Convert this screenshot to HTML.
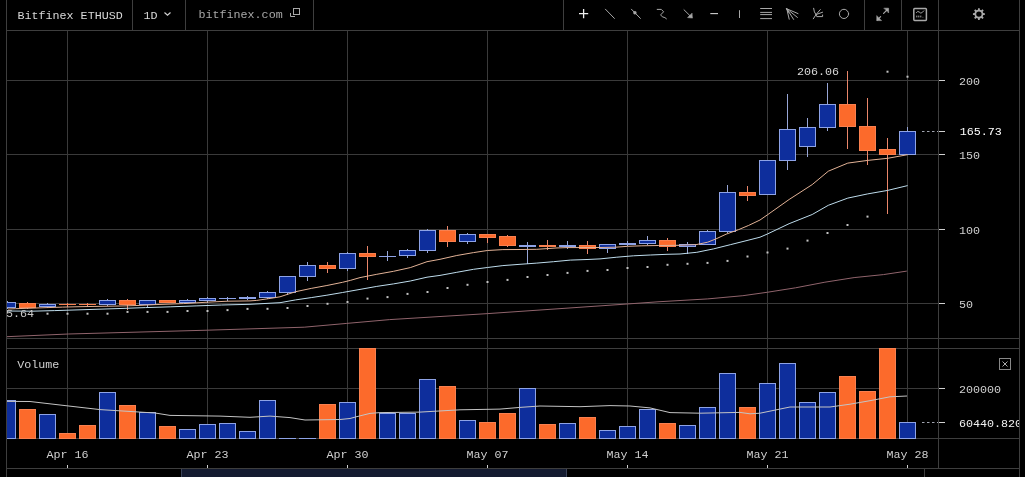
<!DOCTYPE html>
<html><head><meta charset="utf-8"><style>
html,body{margin:0;padding:0;background:#000;width:1025px;height:477px;overflow:hidden}
svg{display:block}
text{font-family:"Liberation Mono",monospace;}
.gs{will-change:transform}
</style></head><body>
<svg class="gs" width="1025" height="477" viewBox="0 0 1025 477">
<defs>
<clipPath id="pc"><rect x="7" y="31" width="931" height="307"/></clipPath>
<clipPath id="ac"><rect x="939" y="339" width="80" height="100"/></clipPath>
<clipPath id="vc"><rect x="7" y="348" width="931" height="91"/></clipPath>
</defs>
<rect width="1025" height="477" fill="#000"/>
<!-- frame lines -->
<g stroke="#3e3e3e" fill="none">
<line x1="6.5" y1="0" x2="6.5" y2="477"/>
<line x1="1019.5" y1="0" x2="1019.5" y2="477"/>
<line x1="938.5" y1="0" x2="938.5" y2="469"/>
<line x1="7" y1="30.5" x2="1019" y2="30.5"/>
<line x1="7" y1="338.5" x2="1019" y2="338.5"/>
<line x1="7" y1="348.5" x2="1019" y2="348.5"/>
<line x1="7" y1="438.5" x2="1019" y2="438.5"/>
<line x1="7" y1="468.5" x2="1019" y2="468.5"/>
<line x1="132.5" y1="0" x2="132.5" y2="30"/>
<line x1="185.5" y1="0" x2="185.5" y2="30"/>
<line x1="313.5" y1="0" x2="313.5" y2="30"/>
<line x1="563.5" y1="0" x2="563.5" y2="30"/>
<line x1="864.5" y1="0" x2="864.5" y2="30"/>
<line x1="901.5" y1="0" x2="901.5" y2="30"/>
<line x1="924.5" y1="469" x2="924.5" y2="477"/>
</g>
<!-- scrollbar -->
<rect x="181" y="469" width="386" height="8" fill="#141b30"/>
<line x1="181.5" y1="469" x2="181.5" y2="477" stroke="#3a4258"/>
<line x1="566.5" y1="469" x2="566.5" y2="477" stroke="#3a4258"/>
<line x1="67.5" y1="31" x2="67.5" y2="338" stroke="#3a3a3a"/>
<line x1="67.5" y1="339" x2="67.5" y2="438" stroke="#3a3a3a"/>
<line x1="207.5" y1="31" x2="207.5" y2="338" stroke="#3a3a3a"/>
<line x1="207.5" y1="339" x2="207.5" y2="438" stroke="#3a3a3a"/>
<line x1="347.5" y1="31" x2="347.5" y2="338" stroke="#3a3a3a"/>
<line x1="347.5" y1="339" x2="347.5" y2="438" stroke="#3a3a3a"/>
<line x1="487.5" y1="31" x2="487.5" y2="338" stroke="#3a3a3a"/>
<line x1="487.5" y1="339" x2="487.5" y2="438" stroke="#3a3a3a"/>
<line x1="627.5" y1="31" x2="627.5" y2="338" stroke="#3a3a3a"/>
<line x1="627.5" y1="339" x2="627.5" y2="438" stroke="#3a3a3a"/>
<line x1="767.5" y1="31" x2="767.5" y2="338" stroke="#3a3a3a"/>
<line x1="767.5" y1="339" x2="767.5" y2="438" stroke="#3a3a3a"/>
<line x1="907.5" y1="31" x2="907.5" y2="338" stroke="#3a3a3a"/>
<line x1="907.5" y1="339" x2="907.5" y2="438" stroke="#3a3a3a"/>
<line x1="7" y1="80.5" x2="938" y2="80.5" stroke="#3a3a3a"/>
<line x1="7" y1="154.5" x2="938" y2="154.5" stroke="#3a3a3a"/>
<line x1="7" y1="229.5" x2="938" y2="229.5" stroke="#3a3a3a"/>
<line x1="7" y1="303.5" x2="938" y2="303.5" stroke="#3a3a3a"/>
<line x1="7" y1="388.5" x2="938" y2="388.5" stroke="#3a3a3a"/>
<g clip-path="url(#pc)">
<rect x="7.0" y="301" width="1" height="8" fill="#98a6d6"/>
<rect x="-0.5" y="302.5" width="16" height="5" fill="#0e2e9c" stroke="#8ea3e6"/>
<rect x="27.0" y="302" width="1" height="7" fill="#ea866a"/>
<rect x="19.5" y="303.5" width="16" height="4" fill="#fc6a2b" stroke="#f9804f"/>
<rect x="47.0" y="303" width="1" height="5" fill="#98a6d6"/>
<rect x="39.5" y="304.5" width="16" height="2" fill="#0e2e9c" stroke="#8ea3e6"/>
<rect x="67.0" y="303" width="1" height="4" fill="#ea866a"/>
<rect x="59.0" y="304" width="17" height="1" fill="#f9804f"/>
<rect x="87.0" y="303" width="1" height="4" fill="#ea866a"/>
<rect x="79.0" y="304" width="17" height="1" fill="#f9804f"/>
<rect x="107.0" y="299" width="1" height="7" fill="#98a6d6"/>
<rect x="99.5" y="300.5" width="16" height="4" fill="#0e2e9c" stroke="#8ea3e6"/>
<rect x="127.0" y="299" width="1" height="11" fill="#ea866a"/>
<rect x="119.5" y="300.5" width="16" height="4" fill="#fc6a2b" stroke="#f9804f"/>
<rect x="147.0" y="300" width="1" height="7" fill="#98a6d6"/>
<rect x="139.5" y="300.5" width="16" height="4" fill="#0e2e9c" stroke="#8ea3e6"/>
<rect x="167.0" y="300" width="1" height="3" fill="#ea866a"/>
<rect x="159.5" y="300.5" width="16" height="2" fill="#fc6a2b" stroke="#f9804f"/>
<rect x="187.0" y="299" width="1" height="4" fill="#98a6d6"/>
<rect x="179.5" y="300.5" width="16" height="2" fill="#0e2e9c" stroke="#8ea3e6"/>
<rect x="207.0" y="297" width="1" height="6" fill="#98a6d6"/>
<rect x="199.5" y="298.5" width="16" height="2" fill="#0e2e9c" stroke="#8ea3e6"/>
<rect x="227.0" y="297" width="1" height="4" fill="#98a6d6"/>
<rect x="219.0" y="298" width="17" height="1" fill="#8ea3e6"/>
<rect x="247.0" y="296" width="1" height="4" fill="#98a6d6"/>
<rect x="239.0" y="297" width="17" height="2" fill="#8ea3e6"/>
<rect x="267.0" y="291" width="1" height="8" fill="#98a6d6"/>
<rect x="259.5" y="292.5" width="16" height="5" fill="#0e2e9c" stroke="#8ea3e6"/>
<rect x="287.0" y="276" width="1" height="19" fill="#98a6d6"/>
<rect x="279.5" y="276.5" width="16" height="16" fill="#0e2e9c" stroke="#8ea3e6"/>
<rect x="307.0" y="262" width="1" height="19" fill="#98a6d6"/>
<rect x="299.5" y="265.5" width="16" height="11" fill="#0e2e9c" stroke="#8ea3e6"/>
<rect x="327.0" y="262" width="1" height="11" fill="#ea866a"/>
<rect x="319.5" y="265.5" width="16" height="3" fill="#fc6a2b" stroke="#f9804f"/>
<rect x="347.0" y="252" width="1" height="19" fill="#98a6d6"/>
<rect x="339.5" y="253.5" width="16" height="15" fill="#0e2e9c" stroke="#8ea3e6"/>
<rect x="367.0" y="246" width="1" height="34" fill="#ea866a"/>
<rect x="359.5" y="253.5" width="16" height="3" fill="#fc6a2b" stroke="#f9804f"/>
<rect x="387.0" y="251" width="1" height="10" fill="#98a6d6"/>
<rect x="379.0" y="256" width="17" height="1" fill="#8ea3e6"/>
<rect x="407.0" y="249" width="1" height="9" fill="#98a6d6"/>
<rect x="399.5" y="250.5" width="16" height="5" fill="#0e2e9c" stroke="#8ea3e6"/>
<rect x="427.0" y="229" width="1" height="24" fill="#98a6d6"/>
<rect x="419.5" y="230.5" width="16" height="20" fill="#0e2e9c" stroke="#8ea3e6"/>
<rect x="447.0" y="226" width="1" height="21" fill="#ea866a"/>
<rect x="439.5" y="230.5" width="16" height="11" fill="#fc6a2b" stroke="#f9804f"/>
<rect x="467.0" y="233" width="1" height="11" fill="#98a6d6"/>
<rect x="459.5" y="234.5" width="16" height="7" fill="#0e2e9c" stroke="#8ea3e6"/>
<rect x="487.0" y="234" width="1" height="9" fill="#ea866a"/>
<rect x="479.5" y="234.5" width="16" height="3" fill="#fc6a2b" stroke="#f9804f"/>
<rect x="507.0" y="235" width="1" height="12" fill="#ea866a"/>
<rect x="499.5" y="236.5" width="16" height="9" fill="#fc6a2b" stroke="#f9804f"/>
<rect x="527.0" y="242" width="1" height="22" fill="#98a6d6"/>
<rect x="519.0" y="245" width="17" height="2" fill="#8ea3e6"/>
<rect x="547.0" y="240" width="1" height="10" fill="#ea866a"/>
<rect x="539.0" y="245" width="17" height="2" fill="#f9804f"/>
<rect x="567.0" y="241" width="1" height="8" fill="#98a6d6"/>
<rect x="559.0" y="245" width="17" height="2" fill="#8ea3e6"/>
<rect x="587.0" y="241" width="1" height="13" fill="#ea866a"/>
<rect x="579.5" y="245.5" width="16" height="3" fill="#fc6a2b" stroke="#f9804f"/>
<rect x="607.0" y="244" width="1" height="9" fill="#98a6d6"/>
<rect x="599.5" y="244.5" width="16" height="4" fill="#0e2e9c" stroke="#8ea3e6"/>
<rect x="627.0" y="241" width="1" height="5" fill="#98a6d6"/>
<rect x="619.0" y="243" width="17" height="2" fill="#8ea3e6"/>
<rect x="647.0" y="236" width="1" height="9" fill="#98a6d6"/>
<rect x="639.5" y="240.5" width="16" height="3" fill="#0e2e9c" stroke="#8ea3e6"/>
<rect x="667.0" y="238" width="1" height="13" fill="#ea866a"/>
<rect x="659.5" y="240.5" width="16" height="6" fill="#fc6a2b" stroke="#f9804f"/>
<rect x="687.0" y="242" width="1" height="12" fill="#98a6d6"/>
<rect x="679.5" y="244.5" width="16" height="2" fill="#0e2e9c" stroke="#8ea3e6"/>
<rect x="707.0" y="230" width="1" height="15" fill="#98a6d6"/>
<rect x="699.5" y="231.5" width="16" height="13" fill="#0e2e9c" stroke="#8ea3e6"/>
<rect x="727.0" y="185" width="1" height="48" fill="#98a6d6"/>
<rect x="719.5" y="192.5" width="16" height="39" fill="#0e2e9c" stroke="#8ea3e6"/>
<rect x="747.0" y="186" width="1" height="15" fill="#ea866a"/>
<rect x="739.5" y="192.5" width="16" height="3" fill="#fc6a2b" stroke="#f9804f"/>
<rect x="767.0" y="160" width="1" height="35" fill="#98a6d6"/>
<rect x="759.5" y="160.5" width="16" height="34" fill="#0e2e9c" stroke="#8ea3e6"/>
<rect x="787.0" y="94" width="1" height="76" fill="#98a6d6"/>
<rect x="779.5" y="129.5" width="16" height="31" fill="#0e2e9c" stroke="#8ea3e6"/>
<rect x="807.0" y="118" width="1" height="39" fill="#98a6d6"/>
<rect x="799.5" y="127.5" width="16" height="19" fill="#0e2e9c" stroke="#8ea3e6"/>
<rect x="827.0" y="83" width="1" height="48" fill="#98a6d6"/>
<rect x="819.5" y="104.5" width="16" height="23" fill="#0e2e9c" stroke="#8ea3e6"/>
<rect x="847.0" y="71" width="1" height="78" fill="#ea866a"/>
<rect x="839.5" y="104.5" width="16" height="22" fill="#fc6a2b" stroke="#f9804f"/>
<rect x="867.0" y="98" width="1" height="67" fill="#ea866a"/>
<rect x="859.5" y="126.5" width="16" height="24" fill="#fc6a2b" stroke="#f9804f"/>
<rect x="887.0" y="138" width="1" height="76" fill="#ea866a"/>
<rect x="879.5" y="149.5" width="16" height="5" fill="#fc6a2b" stroke="#f9804f"/>
<rect x="907.0" y="127" width="1" height="28" fill="#98a6d6"/>
<rect x="899.5" y="131.5" width="16" height="23" fill="#0e2e9c" stroke="#8ea3e6"/>
<polyline points="6.8,336.7 68.4,334 207.2,330.2 304.2,327.2 346.8,323.4 389.7,319.6 487.9,313.6 620,304.5 658,301.8 707.8,298.9 742.9,295.7 767.8,292.2 795.6,287.8 824.9,282.2 854.1,277.6 883.4,274.6 906.8,271.1" fill="none" stroke="#90646c" stroke-width="1" stroke-linejoin="round"/>
<polyline points="7,311 32,311.2 54.7,310.6 80,309.8 120,308.5 145.4,307.6 170.8,306.8 196.1,305.9 221.5,305 250,304.3 280,302.7 295.6,299.9 311.25,297.6 326.9,295.2 342.5,292.5 360,289.4 376.8,286.4 393.5,283.9 410.3,281 427,277.2 440,275.4 456.8,272.3 473.5,269.3 487.4,267.5 502.9,265.6 520,264.3 536.8,263.1 553.5,261.7 570.3,260.1 587,259.5 600,258.9 616.8,257.2 633.5,255.8 650.3,255 667,254.3 680,254 696.8,252.3 713.5,248.9 730.3,244.7 747,240.5 760,237.2 767.2,234.1 789.1,223.7 812.2,214.5 828.3,205.3 847.8,198.1 867.7,193.9 887.7,190.4 907.6,185.6" fill="none" stroke="#bedcec" stroke-width="1" stroke-linejoin="round"/>
<polyline points="8,309 15.6,308.7 39,307.9 62.5,307.1 80,306.7 96,306.4 120,306 137,305.5 158,304.5 183.5,303.6 208.8,302.1 228,301.2 250,300.9 256.8,300.4 273.6,297.9 280,296.8 295.6,291.7 311.25,288.4 326.9,285.5 342.5,282.3 350.3,280.4 360,277.6 376.8,274.3 393.5,271.3 410.3,267.6 427,261.7 440,259.3 456.8,255.5 473.5,252.6 487.4,250.5 502.9,249.6 520,249.5 536.8,249.3 556,248 567,247.6 600,247.5 615.9,247.2 627.7,246.3 641.9,245.8 658.7,245.5 680,245.3 695.9,244.7 707.7,242.2 716,238.9 726.1,234.2 738.7,229.6 748.7,225.4 760,220 767.2,215 789.1,199.5 812.2,184.6 828.3,171.2 847.8,163.1 867.7,160.4 887.7,158.3 907.6,154.7" fill="none" stroke="#e2b296" stroke-width="1" stroke-linejoin="round"/>
<rect x="46.5" y="312.7" width="2" height="2" fill="#c4c4c4"/>
<rect x="66.5" y="312.7" width="2" height="2" fill="#c4c4c4"/>
<rect x="86.5" y="312.7" width="2" height="2" fill="#c4c4c4"/>
<rect x="106.5" y="312.7" width="2" height="2" fill="#c4c4c4"/>
<rect x="126.5" y="310.9" width="2" height="2" fill="#c4c4c4"/>
<rect x="146.5" y="310.9" width="2" height="2" fill="#c4c4c4"/>
<rect x="166.5" y="310.9" width="2" height="2" fill="#c4c4c4"/>
<rect x="186.5" y="310" width="2" height="2" fill="#c4c4c4"/>
<rect x="206.5" y="310" width="2" height="2" fill="#c4c4c4"/>
<rect x="226.5" y="309.1" width="2" height="2" fill="#c4c4c4"/>
<rect x="246.5" y="307.9" width="2" height="2" fill="#c4c4c4"/>
<rect x="266.5" y="307.8" width="2" height="2" fill="#c4c4c4"/>
<rect x="286.5" y="307" width="2" height="2" fill="#c4c4c4"/>
<rect x="306.5" y="305" width="2" height="2" fill="#c4c4c4"/>
<rect x="326.5" y="302.8" width="2" height="2" fill="#c4c4c4"/>
<rect x="346.5" y="301" width="2" height="2" fill="#c4c4c4"/>
<rect x="366.5" y="297.6" width="2" height="2" fill="#c4c4c4"/>
<rect x="386.5" y="296.1" width="2" height="2" fill="#c4c4c4"/>
<rect x="406.5" y="292.9" width="2" height="2" fill="#c4c4c4"/>
<rect x="426.5" y="291" width="2" height="2" fill="#c4c4c4"/>
<rect x="446.5" y="287" width="2" height="2" fill="#c4c4c4"/>
<rect x="466.5" y="283.8" width="2" height="2" fill="#c4c4c4"/>
<rect x="486.5" y="281" width="2" height="2" fill="#c4c4c4"/>
<rect x="506.5" y="278.9" width="2" height="2" fill="#c4c4c4"/>
<rect x="526.5" y="276" width="2" height="2" fill="#c4c4c4"/>
<rect x="546.5" y="274" width="2" height="2" fill="#c4c4c4"/>
<rect x="566.5" y="271.9" width="2" height="2" fill="#c4c4c4"/>
<rect x="586.5" y="269.9" width="2" height="2" fill="#c4c4c4"/>
<rect x="606.5" y="269" width="2" height="2" fill="#c4c4c4"/>
<rect x="626.5" y="267" width="2" height="2" fill="#c4c4c4"/>
<rect x="646.5" y="266" width="2" height="2" fill="#c4c4c4"/>
<rect x="666.5" y="263.8" width="2" height="2" fill="#c4c4c4"/>
<rect x="686.5" y="262.8" width="2" height="2" fill="#c4c4c4"/>
<rect x="706.5" y="261.9" width="2" height="2" fill="#c4c4c4"/>
<rect x="726.5" y="259.9" width="2" height="2" fill="#c4c4c4"/>
<rect x="746.5" y="255.5" width="2" height="2" fill="#c4c4c4"/>
<rect x="766.5" y="251.5" width="2" height="2" fill="#c4c4c4"/>
<rect x="786.5" y="247.6" width="2" height="2" fill="#c4c4c4"/>
<rect x="806.5" y="239.6" width="2" height="2" fill="#c4c4c4"/>
<rect x="826.5" y="232" width="2" height="2" fill="#c4c4c4"/>
<rect x="846.5" y="224" width="2" height="2" fill="#c4c4c4"/>
<rect x="866.5" y="215.6" width="2" height="2" fill="#c4c4c4"/>
<rect x="886.5" y="70.7" width="2" height="2" fill="#c4c4c4"/>
<rect x="906.5" y="75.7" width="2" height="2" fill="#c4c4c4"/>
</g>
<g clip-path="url(#vc)">
<rect x="-0.5" y="400.5" width="16" height="38" fill="#0e2e9c" stroke="#8ea3e6"/>
<rect x="19.5" y="409.5" width="16" height="29" fill="#fc6a2b" stroke="#f9804f"/>
<rect x="39.5" y="414.5" width="16" height="24" fill="#0e2e9c" stroke="#8ea3e6"/>
<rect x="59.5" y="433.5" width="16" height="5" fill="#fc6a2b" stroke="#f9804f"/>
<rect x="79.5" y="425.5" width="16" height="13" fill="#fc6a2b" stroke="#f9804f"/>
<rect x="99.5" y="392.5" width="16" height="46" fill="#0e2e9c" stroke="#8ea3e6"/>
<rect x="119.5" y="405.5" width="16" height="33" fill="#fc6a2b" stroke="#f9804f"/>
<rect x="139.5" y="412.5" width="16" height="26" fill="#0e2e9c" stroke="#8ea3e6"/>
<rect x="159.5" y="426.5" width="16" height="12" fill="#fc6a2b" stroke="#f9804f"/>
<rect x="179.5" y="429.5" width="16" height="9" fill="#0e2e9c" stroke="#8ea3e6"/>
<rect x="199.5" y="424.5" width="16" height="14" fill="#0e2e9c" stroke="#8ea3e6"/>
<rect x="219.5" y="423.5" width="16" height="15" fill="#0e2e9c" stroke="#8ea3e6"/>
<rect x="239.5" y="431.5" width="16" height="7" fill="#0e2e9c" stroke="#8ea3e6"/>
<rect x="259.5" y="400.5" width="16" height="38" fill="#0e2e9c" stroke="#8ea3e6"/>
<rect x="279.0" y="438" width="17" height="1" fill="#8ea3e6"/>
<rect x="299.0" y="438" width="17" height="1" fill="#8ea3e6"/>
<rect x="319.5" y="404.5" width="16" height="34" fill="#fc6a2b" stroke="#f9804f"/>
<rect x="339.5" y="402.5" width="16" height="36" fill="#0e2e9c" stroke="#8ea3e6"/>
<rect x="359.5" y="348.5" width="16" height="90" fill="#fc6a2b" stroke="#f9804f"/>
<rect x="379.5" y="413.5" width="16" height="25" fill="#0e2e9c" stroke="#8ea3e6"/>
<rect x="399.5" y="413.5" width="16" height="25" fill="#0e2e9c" stroke="#8ea3e6"/>
<rect x="419.5" y="379.5" width="16" height="59" fill="#0e2e9c" stroke="#8ea3e6"/>
<rect x="439.5" y="386.5" width="16" height="52" fill="#fc6a2b" stroke="#f9804f"/>
<rect x="459.5" y="420.5" width="16" height="18" fill="#0e2e9c" stroke="#8ea3e6"/>
<rect x="479.5" y="422.5" width="16" height="16" fill="#fc6a2b" stroke="#f9804f"/>
<rect x="499.5" y="413.5" width="16" height="25" fill="#fc6a2b" stroke="#f9804f"/>
<rect x="519.5" y="388.5" width="16" height="50" fill="#0e2e9c" stroke="#8ea3e6"/>
<rect x="539.5" y="424.5" width="16" height="14" fill="#fc6a2b" stroke="#f9804f"/>
<rect x="559.5" y="423.5" width="16" height="15" fill="#0e2e9c" stroke="#8ea3e6"/>
<rect x="579.5" y="417.5" width="16" height="21" fill="#fc6a2b" stroke="#f9804f"/>
<rect x="599.5" y="430.5" width="16" height="8" fill="#0e2e9c" stroke="#8ea3e6"/>
<rect x="619.5" y="426.5" width="16" height="12" fill="#0e2e9c" stroke="#8ea3e6"/>
<rect x="639.5" y="409.5" width="16" height="29" fill="#0e2e9c" stroke="#8ea3e6"/>
<rect x="659.5" y="423.5" width="16" height="15" fill="#fc6a2b" stroke="#f9804f"/>
<rect x="679.5" y="425.5" width="16" height="13" fill="#0e2e9c" stroke="#8ea3e6"/>
<rect x="699.5" y="407.5" width="16" height="31" fill="#0e2e9c" stroke="#8ea3e6"/>
<rect x="719.5" y="373.5" width="16" height="65" fill="#0e2e9c" stroke="#8ea3e6"/>
<rect x="739.5" y="407.5" width="16" height="31" fill="#fc6a2b" stroke="#f9804f"/>
<rect x="759.5" y="383.5" width="16" height="55" fill="#0e2e9c" stroke="#8ea3e6"/>
<rect x="779.5" y="363.5" width="16" height="75" fill="#0e2e9c" stroke="#8ea3e6"/>
<rect x="799.5" y="402.5" width="16" height="36" fill="#0e2e9c" stroke="#8ea3e6"/>
<rect x="819.5" y="392.5" width="16" height="46" fill="#0e2e9c" stroke="#8ea3e6"/>
<rect x="839.5" y="376.5" width="16" height="62" fill="#fc6a2b" stroke="#f9804f"/>
<rect x="859.5" y="391.5" width="16" height="47" fill="#fc6a2b" stroke="#f9804f"/>
<rect x="879.5" y="348.5" width="16" height="90" fill="#fc6a2b" stroke="#f9804f"/>
<rect x="899.5" y="422.5" width="16" height="16" fill="#0e2e9c" stroke="#8ea3e6"/>
<polyline points="7,401.4 30,401.5 60,405 100,409.6 155,413 170,415.4 220,416.1 250,417.3 270,416.1 290,417.6 305,420 320,419.8 340,419.5 350,418.5 357,416.6 370,413.4 380,412.6 420,412.1 460,409.8 500,409.1 520,407.4 540,406 580,406.7 610,405.6 630,406 650,407.9 670,412.6 700,413.2 740,412.4 750,413.8 760,413.2 790,407 830,407 850,404.2 870,400.7 890,396.8 907,396" fill="none" stroke="#c4c4c4" stroke-width="1" stroke-linejoin="round"/>
</g>
<text transform="translate(17.5,19) scale(1,1.0)" fill="#d8d8d8" font-size="11.7" text-anchor="start" >Bitfinex ETHUSD</text>
<text transform="translate(143.5,19) scale(1,1.0)" fill="#d8d8d8" font-size="11.7" text-anchor="start" >1D</text>
<polyline points="164.5,12.5 167.5,15.3 170.5,12.5" fill="none" stroke="#d0d0d0" stroke-width="1.2"/>
<text transform="translate(198.5,17.9) scale(1,1.0)" fill="#a8a8a8" font-size="11.7" text-anchor="start" >bitfinex.com</text>
<rect x="293.5" y="8.5" width="6" height="6" fill="none" stroke="#a8a8a8"/>
<polyline points="290.5,13 290.5,16.5 295,16.5" fill="none" stroke="#a8a8a8"/>
<line x1="939" y1="80.5" x2="945" y2="80.5" stroke="#d0d0d0"/>
<text transform="translate(959,84.6) scale(1,1.0)" fill="#cfcfcf" font-size="11.7" text-anchor="start" >200</text>
<line x1="939" y1="154.5" x2="945" y2="154.5" stroke="#d0d0d0"/>
<text transform="translate(959,158.6) scale(1,1.0)" fill="#cfcfcf" font-size="11.7" text-anchor="start" >150</text>
<line x1="939" y1="229.5" x2="945" y2="229.5" stroke="#d0d0d0"/>
<text transform="translate(959,233.6) scale(1,1.0)" fill="#cfcfcf" font-size="11.7" text-anchor="start" >100</text>
<line x1="939" y1="303.5" x2="945" y2="303.5" stroke="#d0d0d0"/>
<text transform="translate(959,307.6) scale(1,1.0)" fill="#cfcfcf" font-size="11.7" text-anchor="start" >50</text>
<line x1="939" y1="131.5" x2="945" y2="131.5" stroke="#d0d0d0"/>
<line x1="922" y1="131.5" x2="938" y2="131.5" stroke="#a0a4b0" stroke-dasharray="2.5,2.5"/>
<text transform="translate(959.7,134.6) scale(1,1.0)" fill="#ffffff" font-size="11.7" text-anchor="start" >165.73</text>
<text transform="translate(797,75) scale(1,1.0)" fill="#d8d8d8" font-size="11.7" text-anchor="start" >206.06</text>
<g clip-path="url(#pc)">
<text transform="translate(6,316.5) scale(1,1.0)" fill="#c8c8c8" font-size="11.7" text-anchor="start" >5.64</text>
</g>
<text transform="translate(17.3,368) scale(1,1.0)" fill="#d0d0d0" font-size="11.7" text-anchor="start" >Volume</text>
<rect x="999.5" y="358.5" width="11" height="11" fill="none" stroke="#888"/>
<path d="M1002.5 361.5 L1007.5 366.5 M1007.5 361.5 L1002.5 366.5" stroke="#aaa"/>
<line x1="939" y1="388.5" x2="945" y2="388.5" stroke="#d0d0d0"/>
<text transform="translate(959,392.6) scale(1,1.0)" fill="#cfcfcf" font-size="11.7" text-anchor="start" >200000</text>
<line x1="939" y1="422.5" x2="945" y2="422.5" stroke="#d0d0d0"/>
<line x1="922" y1="422.5" x2="938" y2="422.5" stroke="#a0a4b0" stroke-dasharray="2.5,2.5"/>
<g clip-path="url(#ac)">
<text transform="translate(959,427) scale(1,1.0)" fill="#f0f0f0" font-size="11.7" text-anchor="start" >60440.820</text>
</g>
<text transform="translate(67.5,457.6) scale(1,1.0)" fill="#cfcfcf" font-size="11.7" text-anchor="middle" >Apr 16</text>
<line x1="67.5" y1="465" x2="67.5" y2="468" stroke="#d0d0d0"/>
<text transform="translate(207.5,457.6) scale(1,1.0)" fill="#cfcfcf" font-size="11.7" text-anchor="middle" >Apr 23</text>
<line x1="207.5" y1="465" x2="207.5" y2="468" stroke="#d0d0d0"/>
<text transform="translate(347.5,457.6) scale(1,1.0)" fill="#cfcfcf" font-size="11.7" text-anchor="middle" >Apr 30</text>
<line x1="347.5" y1="465" x2="347.5" y2="468" stroke="#d0d0d0"/>
<text transform="translate(487.5,457.6) scale(1,1.0)" fill="#cfcfcf" font-size="11.7" text-anchor="middle" >May 07</text>
<line x1="487.5" y1="465" x2="487.5" y2="468" stroke="#d0d0d0"/>
<text transform="translate(627.5,457.6) scale(1,1.0)" fill="#cfcfcf" font-size="11.7" text-anchor="middle" >May 14</text>
<line x1="627.5" y1="465" x2="627.5" y2="468" stroke="#d0d0d0"/>
<text transform="translate(767.5,457.6) scale(1,1.0)" fill="#cfcfcf" font-size="11.7" text-anchor="middle" >May 21</text>
<line x1="767.5" y1="465" x2="767.5" y2="468" stroke="#d0d0d0"/>
<text transform="translate(907.5,457.6) scale(1,1.0)" fill="#cfcfcf" font-size="11.7" text-anchor="middle" >May 28</text>
<line x1="907.5" y1="465" x2="907.5" y2="468" stroke="#d0d0d0"/>
<g fill="none" stroke-linecap="round" stroke-linejoin="round">
<path d="M579 13.6 H588.2 M583.6 9 V18.2" stroke="#eeeeee" stroke-width="1.3" stroke-linecap="butt"/>
<path d="M605.4 9.2 L614.4 18.4" stroke="#a8a8a8" stroke-width="1"/>
<path d="M631.4 9.2 L640.4 18.4" stroke="#a8a8a8" stroke-width="1"/>
<circle cx="634.9" cy="12.8" r="1.7" fill="#a8a8a8" stroke="none"/>
<path d="M657.2 9.4 H661.3 L663.6 11.8 L660.6 14.9 L662.3 16.8 L664.9 17.6 L666.4 18.8" stroke="#a8a8a8" stroke-width="1"/>
<path d="M684 9.8 L690.5 16.2" stroke="#a8a8a8" stroke-width="1"/>
<path d="M692.2 18 L687.6 17.6 L691.8 13.4 Z" fill="#a8a8a8" stroke="#a8a8a8" stroke-width="0.6"/>
<path d="M710.3 13.6 H718" stroke="#d0d0d0" stroke-width="1.1" stroke-linecap="butt"/>
<path d="M739.5 10.2 V18" stroke="#a8a8a8" stroke-width="1" stroke-linecap="butt"/>
<path d="M760.2 8.5 H772 M760.2 12.4 H772 M760.2 14.6 H772 M760.2 18.6 H772" stroke="#a8a8a8" stroke-width="1" stroke-linecap="butt"/>
<path d="M786.8 8.8 L789.2 19.2 M786.8 8.8 L793.6 19.4 M786.8 8.8 L797.4 17.4 M786.8 8.8 L798 13.6 M786.4 8.6 L788.6 12.4" stroke="#a8a8a8" stroke-width="1"/>
<path d="M813.6 8.3 Q814 12.5 816 14.6 L813.3 18.8 M816 14.6 L820.3 9.6 M816 14.6 L822.6 12.2 M816 14.6 L816.8 16.6 H822.6 V15" stroke="#a8a8a8" stroke-width="1"/>
<circle cx="844" cy="13.9" r="4.6" stroke="#a8a8a8" stroke-width="1"/>
<path d="M883.6 13.4 L887.6 9.3 M880.6 16.6 L877.2 20.2" stroke="#a8a8a8" stroke-width="1.2"/>
<path d="M884.2 8.2 H888.6 V12.6 Z M876.8 16 V20.6 H881.2 Z" fill="#a8a8a8" stroke="#a8a8a8" stroke-width="0.6"/>
<rect x="913.8" y="8.6" width="12.6" height="11.8" rx="0.8" stroke="#a8a8a8" stroke-width="1.5"/>
<path d="M916.4 12.6 Q917.6 10.4 919.2 12 Q920.6 13.6 921.8 12.8 L923.8 10.8" stroke="#a8a8a8" stroke-width="1"/>
<path d="M916.8 15.6 V17.4 M918.8 15.6 V17.4 M920.8 15.6 V17.4 M922.9 16.9 V17.4" stroke="#a8a8a8" stroke-width="1" stroke-linecap="butt"/>
</g>
<path d="M977.92 9.71 L978.06 8.16 L979.74 8.16 L979.88 9.71 L981.31 10.30 L982.51 9.31 L983.69 10.49 L982.70 11.69 L983.29 13.12 L984.84 13.26 L984.84 14.94 L983.29 15.08 L982.70 16.51 L983.69 17.71 L982.51 18.89 L981.31 17.90 L979.88 18.49 L979.74 20.04 L978.06 20.04 L977.92 18.49 L976.49 17.90 L975.29 18.89 L974.11 17.71 L975.10 16.51 L974.51 15.08 L972.96 14.94 L972.96 13.26 L974.51 13.12 L975.10 11.69 L974.11 10.49 L975.29 9.31 L976.49 10.30 Z M981.60 14.10 A2.7 2.7 0 1 0 976.20 14.10 A2.7 2.7 0 1 0 981.60 14.10 Z" fill="#a8a8a8" fill-rule="evenodd"/>
</svg>
</body></html>
